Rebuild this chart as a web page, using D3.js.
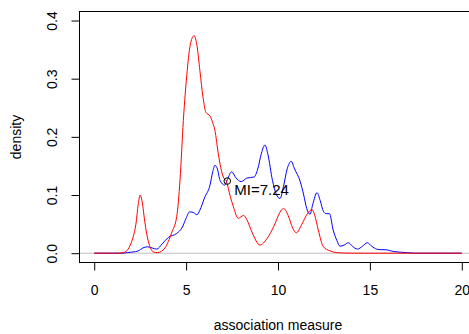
<!DOCTYPE html>
<html>
<head>
<meta charset="utf-8">
<script src="https://cdn.jsdelivr.net/npm/d3@7"></script>
<style>
  body { margin: 0; background: #fff; }
  text { font-family: "Liberation Sans", Arial, sans-serif; fill: #000; }
</style>
</head>
<body>
<div id="chart"></div>
<script>
var svgWidth = 469;
var svgHeight = 334;

// density curves: [x, density]
var redDensity = [[0,0],[1.2,0],[1.6,0.001],[1.9,0.01],[2.12,0.028],[2.27,0.05],[2.4,0.085],[2.5,0.1],
  [2.6,0.09],[2.77,0.05],[2.89,0.028],[3.05,0.01],[3.23,0.002],[3.45,0.001],[3.85,0.009],[4.21,0.035],
  [4.49,0.063],[4.67,0.126],[4.85,0.228],[5.06,0.314],[5.25,0.362],[5.44,0.374],[5.6,0.355],[5.75,0.314],
  [5.92,0.268],[6.08,0.242],[6.3,0.236],[6.45,0.224],[6.57,0.211],[6.75,0.171],[7.02,0.131],[7.2,0.123],
  [7.4,0.098],[7.57,0.08],[7.84,0.06],[8.13,0.065],[8.3,0.058],[8.6,0.035],[9.02,0.014],[9.4,0.025],
  [9.8,0.048],[10.1,0.07],[10.3,0.077],[10.55,0.065],[10.8,0.043],[11.0,0.035],[11.3,0.05],[11.6,0.068],
  [11.85,0.075],[12.0,0.065],[12.19,0.04],[12.47,0.011],[12.83,0.004],[13.2,0.001],[14,0],[20,0]];

var blueDensity = [[0,0],[1.5,0],[1.8,0.001],[2.1,0.002],[2.4,0.004],[2.65,0.009],[2.89,0.011],[3.15,0.009],
  [3.4,0.007],[3.7,0.016],[4.03,0.027],[4.49,0.034],[4.8,0.045],[5.0,0.06],[5.19,0.071],[5.4,0.07],
  [5.59,0.066],[5.75,0.074],[6.0,0.095],[6.3,0.117],[6.45,0.14],[6.57,0.151],[6.7,0.145],[6.85,0.125],
  [7.1,0.117],[7.25,0.127],[7.48,0.14],[7.7,0.13],[8.0,0.123],[8.3,0.129],[8.7,0.131],[8.9,0.145],
  [9.1,0.172],[9.29,0.186],[9.45,0.17],[9.7,0.125],[9.9,0.102],[10.11,0.094],[10.3,0.115],[10.5,0.145],
  [10.72,0.158],[10.9,0.145],[11.2,0.124],[11.4,0.1],[11.56,0.077],[11.74,0.067],[11.9,0.085],[12.12,0.104],
  [12.3,0.09],[12.47,0.072],[12.62,0.068],[12.8,0.068],[13.0,0.04],[13.2,0.022],[13.37,0.012],[13.6,0.014],
  [13.83,0.018],[14.05,0.012],[14.32,0.007],[14.6,0.012],[14.86,0.018],[15.1,0.012],[15.37,0.007],
  [15.6,0.006],[15.82,0.006],[16.28,0.003],[17.0,0.001],[17.5,0],[20,0]];

var xTicks = [0, 5, 10, 15, 20];
var yTicks = [0, 0.1, 0.2, 0.3, 0.4];
var miPoint = [7.24, 0.124];
var miLabel = "MI=7.24";

// plot region (R style, 4% axis extension)
var box = { left: 79.5, top: 11.5, right: 476.5, bottom: 262.5 };

var svg = d3.select("#chart")
    .append("svg")
    .attr("width", svgWidth)
    .attr("height", svgHeight);

var x = d3.scaleLinear().domain([-0.8, 20.8]).range([box.left, box.right]);
var y = d3.scaleLinear().domain([-0.016, 0.4155]).range([box.bottom, box.top]);

// zero line
svg.append("line")
    .attr("x1", box.left).attr("x2", box.right)
    .attr("y1", y(0)).attr("y2", y(0))
    .attr("stroke", "#BEBEBE");

var line = d3.line()
    .x(d => x(d[0]))
    .y(d => y(d[1]))
    .curve(d3.curveMonotoneX);

svg.append("path")
    .datum(blueDensity)
    .attr("d", line)
    .attr("fill", "none")
    .attr("stroke", "#0000FF")
    .attr("stroke-width", 1);

svg.append("path")
    .datum(redDensity)
    .attr("d", line)
    .attr("fill", "none")
    .attr("stroke", "#FF0000")
    .attr("stroke-width", 1);

// MI marker
svg.append("circle")
    .attr("cx", x(miPoint[0]))
    .attr("cy", y(miPoint[1]))
    .attr("r", 3.3)
    .attr("fill", "none")
    .attr("stroke", "#000");

svg.append("text")
    .attr("x", x(miPoint[0]) + 7)
    .attr("y", y(miPoint[1]) + 13.6)
    .style("font-size", "15px")
    .text(miLabel);

// box
svg.append("rect")
    .attr("x", box.left).attr("y", box.top)
    .attr("width", box.right - box.left)
    .attr("height", box.bottom - box.top)
    .attr("fill", "none")
    .attr("stroke", "#000");

// axes
var bottomAxis = d3.axisBottom(x).tickValues(xTicks).tickSize(8).tickPadding(15).tickFormat(d3.format("d"));
var leftAxis = d3.axisLeft(y).tickValues(yTicks).tickSize(8).tickFormat(d3.format(".1f"));

var gx = svg.append("g")
    .attr("transform", `translate(0, ${box.bottom})`)
    .call(bottomAxis);
gx.select(".domain").remove();
gx.selectAll("text").style("font-size", "14px").attr("fill", "#000").attr("font-family", null);
gx.selectAll("line").attr("stroke", "#000");

var gy = svg.append("g")
    .attr("transform", `translate(${box.left}, 0)`)
    .call(leftAxis);
gy.select(".domain").remove();
gy.selectAll("line").attr("stroke", "#000");
gy.selectAll("text")
    .style("font-size", "14px")
    .attr("fill", "#000")
    .attr("font-family", null)
    .attr("x", null)
    .attr("dy", null)
    .attr("text-anchor", "middle")
    .attr("transform", "translate(-22.5, 0) rotate(-90)");

// axis titles
svg.append("text")
    .attr("x", (box.left + box.right) / 2)
    .attr("y", 330)
    .attr("text-anchor", "middle")
    .style("font-size", "14px")
    .text("association measure");

svg.append("text")
    .attr("transform", `translate(20.5, ${(box.top + box.bottom) / 2}) rotate(-90)`)
    .attr("text-anchor", "middle")
    .style("font-size", "14px")
    .text("density");
</script>
</body>
</html>
